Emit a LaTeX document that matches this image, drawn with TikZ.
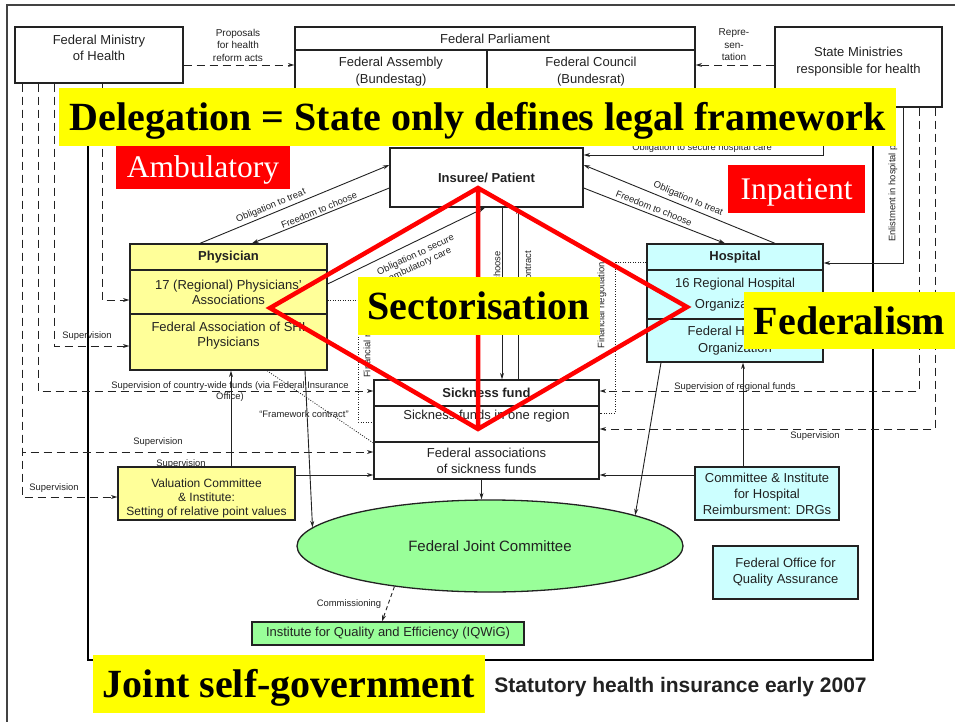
\documentclass[tikz,border=0pt]{standalone}
\usepackage{fontspec}
\setmainfont{Liberation Sans}
\newfontfamily\timesfont{Liberation Serif}
\usetikzlibrary{arrows.meta,shapes.geometric}
\definecolor{ink}{HTML}{222222}
\definecolor{paleyellow}{HTML}{FFFF99}
\definecolor{palecyan}{HTML}{CCFFFF}
\definecolor{palegreen}{HTML}{99FF99}
\definecolor{banneryellow}{HTML}{FFFF00}
\definecolor{bannerred}{HTML}{FF0000}
\newcommand\setfs[2]{\fontsize{#1}{#2}\selectfont}
\tikzset{
  cell/.style={draw=ink, line width=1.3pt, inner sep=0pt, align=center, text=ink, font=\setfs{13}{16}},
  txt/.style={inner sep=0pt, align=center, text=ink, font=\setfs{13}{16}},
  lbl/.style={inner sep=1pt, align=center, text=ink, font=\setfs{9.4}{11}},
  conn/.style={draw=ink, line width=0.9pt},
  arr/.style={-{Stealth[length=6.5pt,width=4pt]}},
  dsh/.style={dash pattern=on 8pt off 5pt},
  dotln/.style={line width=0.8pt, dash pattern=on 1pt off 1.5pt},
  banner/.style={fill=banneryellow, inner sep=0pt, text height=27pt, text depth=0pt,
                 font=\timesfont\bfseries\setfs{40}{44}},
  redbanner/.style={fill=bannerred, text=white, inner sep=0pt, text height=21pt, text depth=0pt,
                    font=\timesfont\setfs{31.5}{36}},
  redline/.style={draw=bannerred, line width=4.5pt}
}
\begin{document}
\begin{tikzpicture}[x=1pt,y=-1pt]
\useasboundingbox (0,0) rectangle (955,722);

% frames
\draw[ink!85, line width=2pt] (955,5) -- (7,5) -- (7,722);
\draw[black, line width=2.6pt] (88,100) rectangle (873,660);

% legislative level
\node[cell, minimum width=168pt, minimum height=56pt] (mh) at (99,55) {};
\node[txt] (mht) at (99,48) {Federal Ministry\\of Health};
\node[cell, minimum width=400pt, minimum height=23pt] (parlT) at (495,38.5) {Federal Parliament};
\node[cell, minimum width=192pt, minimum height=43pt, font=\setfs{13}{17}] (parlA) at (391,71.5) {Federal Assembly\\(Bundestag)};
\node[cell, minimum width=208pt, minimum height=43pt, font=\setfs{13}{17}] (parlC) at (591,71.5) {Federal Council\\(Bundesrat)};
\node[cell, minimum width=167pt, minimum height=80pt] (sm) at (858.5,67) {};
\node[txt, font=\setfs{13}{17}] (smt) at (858.5,61.5) {State Ministries\\responsible for health};
\node[lbl, font=\setfs{10}{12.5}] (lblProp) at (238,45) {Proposals\\for health\\reform acts};
\node[lbl, font=\setfs{10}{12.5}] (lblRepr) at (734,45) {Repre-\\sen-\\tation};

% actors
\node[cell, minimum width=193pt, minimum height=59pt, font=\bfseries\setfs{13}{16}] (ins) at (486.5,177.5) {Insuree/ Patient};

\node[cell, fill=paleyellow, minimum width=197pt, minimum height=26pt, font=\bfseries\setfs{13}{16}] (physH) at (228.5,257) {Physician};
\node[cell, fill=paleyellow, minimum width=197pt, minimum height=44pt, font=\setfs{13}{15}] (physR) at (228.5,292) {17 (Regional) Physicians’\\Associations};
\node[cell, fill=paleyellow, minimum width=197pt, minimum height=56pt] (physF) at (228.5,342) {};
\node[txt, font=\setfs{13}{15}] (physFt) at (228.5,335.5) {Federal Association of SHI\\Physicians};

\node[cell, fill=palecyan, minimum width=176pt, minimum height=26pt, font=\bfseries\setfs{13}{16}] (hospH) at (735,257) {Hospital};
\node[cell, fill=palecyan, minimum width=176pt, minimum height=49pt, font=\setfs{13}{21}] (hospR) at (735,294.5) {16 Regional Hospital\\Organizations};
\node[cell, fill=palecyan, minimum width=176pt, minimum height=43pt, font=\setfs{13}{17}] (hospF) at (735,340.5) {Federal Hospital\\Organization};

\node[cell, fill=white, minimum width=225pt, minimum height=26pt, font=\bfseries\setfs{13}{16}] (sfH) at (486.5,393) {Sickness fund};
\node[cell, fill=white, minimum width=225pt, minimum height=36pt] (sfR) at (486.5,424) {};
\node[txt] (sfRt) at (486.5,416) {Sickness funds in one region};
\node[cell, fill=white, minimum width=225pt, minimum height=37pt] (sfF) at (486.5,460.5) {Federal associations\\of sickness funds};

\node[cell, fill=paleyellow, minimum width=177pt, minimum height=53pt] (val) at (206.5,493.5) {};
\node[txt, font=\setfs{12}{14}] (valt) at (206.5,498) {Valuation Committee\\\& Institute:\\Setting of relative point values};

\node[cell, fill=palecyan, minimum width=144pt, minimum height=53pt] (drg) at (767,493.5) {Committee \& Institute\\for Hospital\\Reimbursment: DRGs};
\node[cell, fill=palecyan, minimum width=145pt, minimum height=53pt] (qa) at (785.5,572.5) {Federal Office for\\Quality Assurance};

\node[draw=ink, line width=1.3pt, fill=palegreen, ellipse, minimum width=386pt, minimum height=92pt,
      inner sep=0pt, text=ink, font=\setfs{15}{18}] (gjc) at (490,546) {Federal Joint Committee};
\node[cell, fill=palegreen, minimum width=272pt, minimum height=23pt] (iq) at (388,633.5) {Institute for Quality and Efficiency (IQWiG)};

% legislative connectors
\draw[conn, dsh, arr] ([yshift=-10pt]mh.east) -- ([yshift=-10pt]mh.east -| parlA.west);
\draw[conn, dsh, arr] ([yshift=2pt]sm.west) -- ([yshift=2pt]sm.west -| parlC.east);

% supervision by the federal ministry
\draw[conn, dsh, arr] ([xshift=3pt]mh.south) |- ([yshift=-8pt]physR.west);
\draw[conn, dsh, arr] ([xshift=-45pt]mh.south) |- ([yshift=-4pt]physF.west);
\draw[conn, dsh, arr] ([xshift=-61pt]mh.south) |- ([yshift=2pt]sfH.west);
\draw[conn, dsh, arr] ([xshift=-77pt]mh.south) |- ([yshift=8.5pt]sfF.west);
\draw[conn, dsh, arr] ([xshift=-77pt]mh.south) |- ([yshift=-3.5pt]val.west);

% state ministries
\draw[conn, arr] ([xshift=-35.5pt]sm.south) |- ([yshift=22.5pt]ins.east);
\draw[conn, arr] ([xshift=44.5pt]sm.south) |- ([yshift=-6pt]hospH.east);
\draw[conn, dsh, arr] ([xshift=60.5pt]sm.south) |- ([yshift=2pt]sfH.east);
\draw[conn, dsh, arr] ([xshift=76.5pt]sm.south) |- ([yshift=-5pt]sfR.east);

% insuree relations
\draw[conn, arr] ([xshift=-28.5pt]physH.north) -- ([yshift=12.5pt]ins.west);
\draw[conn, arr] ([yshift=-10.5pt]ins.west) -- ([xshift=23.5pt]physH.north);
\draw[conn, arr] ([xshift=40pt]hospH.north) -- ([yshift=12.5pt]ins.east);
\draw[conn, arr] ([yshift=-10.5pt]ins.east) -- ([xshift=-10pt]hospH.north);
\draw[conn, arr] ([yshift=8pt]physR.east) -- ([xshift=-1.5pt]ins.south);
\draw[conn, arr] ([xshift=15.5pt]ins.south) -- ([xshift=15.5pt]sfH.north);
\draw[conn, arr] ([xshift=31.5pt]sfH.north) -- ([xshift=31.5pt]ins.south);

% negotiations and contracts
\draw[conn, dotln] ([yshift=-8pt]physR.east) -| ([xshift=-15pt,yshift=2pt]sfR.west) -- ([yshift=2pt]sfR.west);
\draw[conn, dotln] ([yshift=-5pt]hospH.west) -| ([xshift=16pt,yshift=11pt]sfR.east) -- ([yshift=11pt]sfR.east);
\draw[conn, dotln] ([xshift=38.5pt]physF.south) -- ([yshift=17.5pt]sfF.west);

% joint self-government
\draw[conn, arr] ([xshift=24.5pt]val.north) -- ([xshift=24.5pt]val.north |- physF.south);
\draw[conn, arr] ([yshift=18.5pt]val.east) -- ([yshift=18.5pt]val.east -| sfF.west);
\draw[conn, arr] ([yshift=18.5pt]drg.west) -- ([yshift=18.5pt]drg.west -| sfF.east);
\draw[conn, arr] ([xshift=-24pt]drg.north) -- ([xshift=-24pt]drg.north |- hospF.south);
\draw[conn, arr] ([xshift=76.5pt]physF.south) -- (gjc.174);
\draw[conn, arr] ([xshift=-74pt]hospF.south) -- (gjc.12);
\draw[conn, arr] ([xshift=-5pt]sfF.south) -- ([xshift=-5pt]sfF.south |- gjc.north);
\draw[conn, dash pattern=on 4pt off 3pt, arr] (gjc.203) -- ([xshift=-6pt]iq.north);

% connector labels
\node[lbl, rotate=22.6] (lblOTL) at (271,206) {Obligation to treat};
\node[lbl, rotate=22.1] (lblFCL) at (319,210) {Freedom to choose};
\node[lbl, rotate=-22.6] (lblOTR) at (688,199) {Obligation to treat};
\node[lbl, rotate=-21.9] (lblFCR) at (654,208) {Freedom to choose};
\node[lbl, rotate=25.1, inner sep=0pt, font=\setfs{9.4}{10.5}] (lblOSA) at (418,260) {Obligation to secure\\ambulatory care};
\node[lbl] (lblOSH) at (702,148) {Obligation to secure hospital care};
\node[lbl, rotate=90, anchor=west] (lblEnl) at (893,243) {Enlistment in hospital plan};
\node[lbl, rotate=90, anchor=east] (lblFCS) at (497,250) {Freedom to choose};
\node[lbl, rotate=90, anchor=east] (lblIC) at (528,250) {Insurance contract};
\node[lbl, rotate=90, anchor=west] (lblFNL) at (368,379) {Financial negotiation};
\node[lbl, rotate=90] (lblFNR) at (602,305.5) {Financial negotiation};
\node[lbl] (lblSupA) at (87,336) {Supervision};
\node[lbl] (lblSupCW) at (230,392) {Supervision of country-wide funds (via Federal Insurance\\Office)};
\node[lbl] (lblSupB) at (158,442) {Supervision};
\node[lbl] (lblSupC) at (181,464) {Supervision};
\node[lbl] (lblSupD) at (54,488) {Supervision};
\node[lbl] (lblSupR) at (735,387) {Supervision of regional funds};
\node[lbl] (lblSupE) at (815,436) {Supervision};
\node[lbl] (lblFW) at (304,414) {“Framework contract”};
\node[lbl] (lblCom) at (349,604) {Commissioning};

% sectorisation diamond
\coordinate (dT) at (478,188);
\coordinate (dL) at (270,308);
\coordinate (dB) at (478,429);
\coordinate (dR) at (687,307);
\draw[redline] (dT) -- (dL) -- (dB) -- (dR) -- cycle (dT) -- (dB);

% banners
\node[banner, minimum width=837pt, minimum height=58pt] (bDeleg) at (477.5,117) {Delegation = State only defines legal framework};
\node[redbanner, minimum width=174pt, minimum height=43pt] (bAmb) at (203,167.5) {Ambulatory};
\node[redbanner, minimum width=137pt, minimum height=48pt] (bInp) at (796.5,189) {Inpatient};
\node[banner, minimum width=242pt, minimum height=58pt] (bSect) at (478.5,306) {Sectorisation};
\node[banner, minimum width=211pt, minimum height=57pt] (bFed) at (849.5,320.5) {Federalism};
\node[banner, minimum width=392pt, minimum height=58pt] (bJoint) at (289,684) {Joint self-government};

\node[inner sep=0pt, text=ink, font=\bfseries\setfs{21}{24}] (title) at (680.5,687) {Statutory health insurance early 2007};
\end{tikzpicture}
\end{document}
